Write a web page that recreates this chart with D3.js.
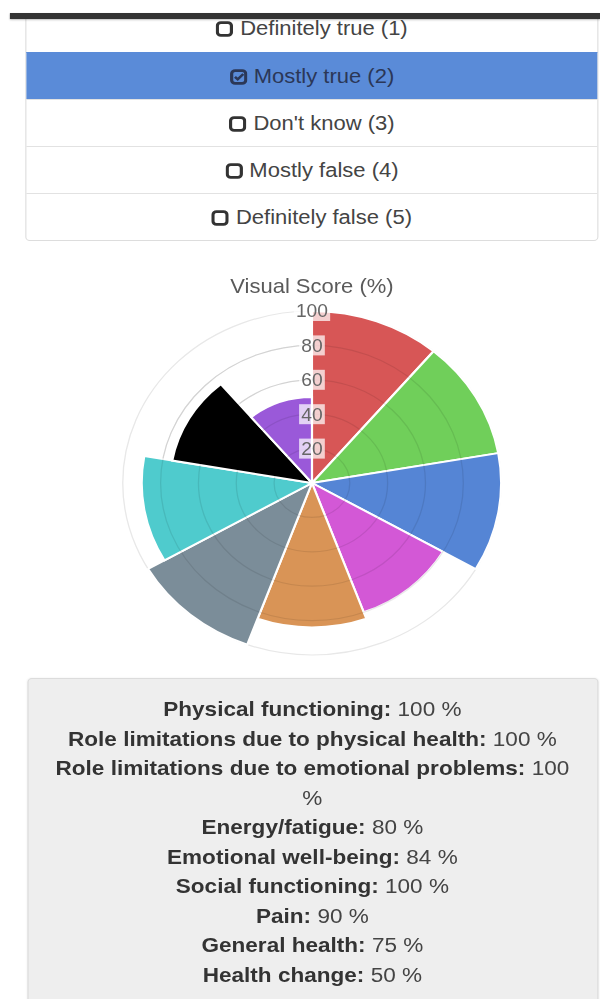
<!DOCTYPE html>
<html><head><meta charset="utf-8">
<script src="https://cdn.jsdelivr.net/npm/d3@7"></script>
<style>
html,body{margin:0;padding:0;background:#fff;overflow:hidden;}
body{width:600px;height:999px;position:relative;font-family:"Liberation Sans",Arial,Helvetica,sans-serif;}
#wrap{position:absolute;left:0;top:0;width:545.45px;height:999px;transform:scale(1.1,1);transform-origin:0 0;}
#list{position:absolute;left:23px;top:4px;width:521px;border:1px solid #ddd;border-radius:4px;background:#fff;box-sizing:border-box;}
.item{height:47px;line-height:47px;text-align:center;font-size:20px;color:#444;border-top:1px solid #e2e2e2;box-sizing:border-box;}
.item:first-child{border-top:none;}
.item.active{background:#5a8bd8;color:#2b3757;border-top-color:#5a8bd8;}
.item svg{vertical-align:-2px;margin-right:6px;}
#topmask{position:absolute;left:0;top:0;width:545.45px;height:13px;background:#fff;}
#bar{position:absolute;left:9px;top:13px;width:537px;height:6px;background:#343434;box-shadow:0 1px 2px rgba(0,0,0,.25);}
#chart{position:absolute;left:0;top:250px;}
#info{position:absolute;left:24.5px;top:678px;width:519px;height:340px;background:#eeeeee;border:1px solid #dcdcdc;border-radius:4px;box-sizing:border-box;padding-top:15px;box-shadow:0 0 2px rgba(0,0,0,.08);}
#info .inner{width:480px;margin:0 auto;text-align:center;font-size:20.5px;line-height:29.5px;color:#444;}
#info b{color:#333;}
</style>
</head>
<body>
<div id="wrap">
  <div id="list"></div>
  <div id="topmask"></div>
  <div id="bar"></div>
  <svg id="chart" width="545" height="420"></svg>
  <div id="info"><div class="inner"></div></div>
</div>
<script>
// ---- data ----
const answers = ["Definitely true (1)", "Mostly true (2)", "Don't know (3)", "Mostly false (4)", "Definitely false (5)"];
const selectedAnswer = 1;
const categories = ["Physical functioning", "Role limitations due to physical health", "Role limitations due to emotional problems", "Energy/fatigue", "Emotional well-being", "Social functioning", "Pain", "General health", "Health change"];
const values = [100, 100, 100, 80, 84, 100, 90, 75, 50];
const colors = ["#d75656", "#70cf5a", "#5585d5", "#d358d6", "#d99456", "#7b8d99", "#4fcbcd", "#000000", "#9a59d9"];
const ticks = [20, 40, 60, 80, 100];
const chartTitle = "Visual Score (%)";

// ---- answer list ----
const uncheckedIcon = '<svg width="16" height="16" viewBox="0 0 16 16"><rect x="1.6" y="1.6" width="12.8" height="12.8" rx="3.2" fill="none" stroke="#333" stroke-width="2.9"/></svg>';
const checkedIcon = '<svg width="16" height="16" viewBox="0 0 16 16"><rect x="1.6" y="1.6" width="12.8" height="12.8" rx="3.2" fill="none" stroke="#2b3757" stroke-width="2.9"/><path d="M4.6 7.9 L7.1 10.3 L12.2 5" fill="none" stroke="#2b3757" stroke-width="2.5"/></svg>';
d3.select("#list").selectAll("div.item").data(answers).join("div")
  .attr("class", (d, i) => "item" + (i === selectedAnswer ? " active" : ""))
  .html((d, i) => (i === selectedAnswer ? checkedIcon : uncheckedIcon) + d.replace(/'/g, "&#39;"));

// ---- polar area chart ----
const svg = d3.select("#chart");
const cx = 283.6, cy = 233;
const r = d3.scaleLinear().domain([0, 100]).range([0, 172]);
const g = svg.append("g").attr("transform", `translate(${cx},${cy})`);

g.selectAll("circle.grid").data(ticks).join("circle")
  .attr("class", "grid").attr("r", d => r(d))
  .attr("fill", "none").attr("stroke", "#e8e8e8").attr("stroke-width", 1.2);

const step = 2 * Math.PI / categories.length;
const arc = d3.arc().innerRadius(0);
g.selectAll("path.seg").data(values).join("path")
  .attr("class", "seg")
  .attr("d", (d, i) => arc({outerRadius: r(d), startAngle: i * step, endAngle: (i + 1) * step}))
  .attr("fill", (d, i) => colors[i])
  .attr("stroke", "#fff").attr("stroke-width", 2);

g.selectAll("circle.grid2").data(ticks.slice(0, -1)).join("circle")
  .attr("class", "grid2").attr("r", d => r(d))
  .attr("fill", "none").attr("stroke", "rgba(0,0,0,0.09)").attr("stroke-width", 1.2);

const tl = g.selectAll("g.tick").data(ticks).join("g")
  .attr("class", "tick").attr("transform", d => `translate(0,${-r(d)})`);
tl.append("rect")
  .attr("x", d => -(String(d).length * 9.7) / 2 - 2).attr("y", -10)
  .attr("width", d => String(d).length * 9.7 + 4).attr("height", 20)
  .attr("fill", "rgba(255,255,255,0.72)");
tl.append("text").attr("text-anchor", "middle").attr("dy", "0.36em")
  .attr("font-size", 17.5).attr("fill", "#666").text(d => d);

svg.append("text").attr("x", cx).attr("y", 43).attr("text-anchor", "middle")
  .attr("font-size", 20).attr("fill", "#5a5a5a").text(chartTitle);

// ---- score text ----
d3.select("#info .inner").selectAll("div").data(categories).join("div")
  .html((d, i) => `<b>${d}:</b> <span>${values[i]}</span> <span>%</span>`);
</script>
</body></html>
